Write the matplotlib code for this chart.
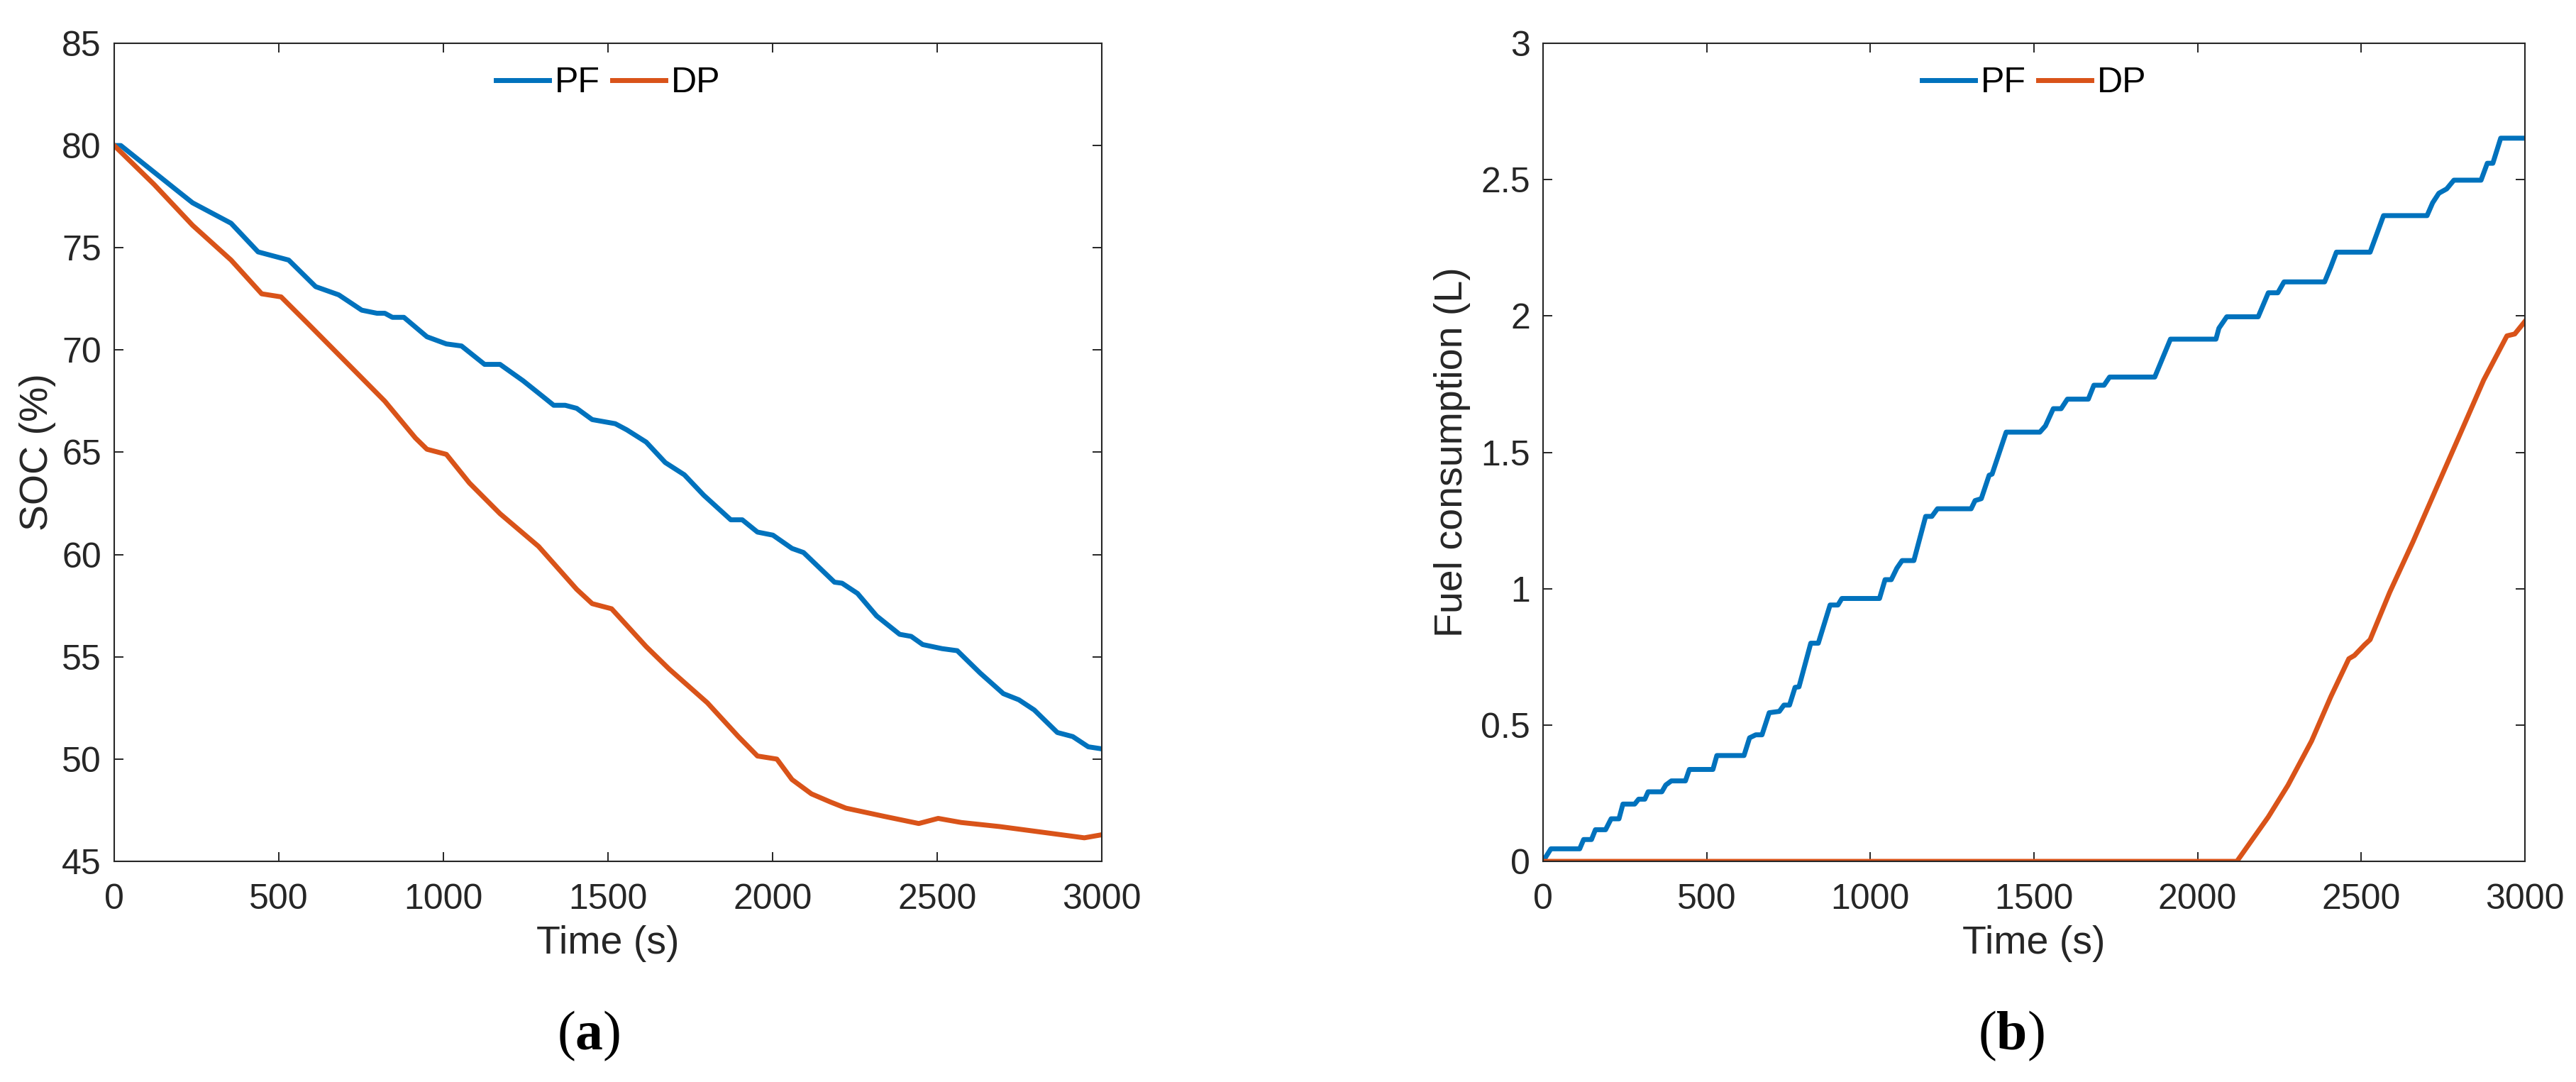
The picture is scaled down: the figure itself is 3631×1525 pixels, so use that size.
import matplotlib
matplotlib.use("Agg")
import matplotlib.pyplot as plt

# ---------------- data ----------------
soc_pf_t = [0, 20, 121, 191, 238, 355, 437, 460, 530, 612, 682, 752, 798, 822, 845, 880,
            950, 1009, 1055, 1125, 1172, 1242, 1312, 1335, 1370, 1405, 1452, 1522, 1557,
            1616, 1674, 1732, 1791, 1873, 1908, 1954, 2001, 2059, 2094, 2188, 2211, 2258,
            2316, 2386, 2421, 2456, 2515, 2561, 2631, 2701, 2748, 2795, 2865, 2912, 2959, 3000]
soc_pf = [80.0, 80.0, 78.7, 77.8, 77.2, 76.2, 74.8, 74.7, 74.4, 73.1, 72.7, 71.95, 71.8, 71.8,
          71.6, 71.6, 70.65, 70.3, 70.2, 69.3, 69.3, 68.5, 67.6, 67.3, 67.3, 67.15, 66.6, 66.4,
          66.1, 65.5, 64.5, 63.9, 62.9, 61.7, 61.7, 61.1, 60.95, 60.3, 60.1, 58.65, 58.6, 58.1,
          57.0, 56.1, 56.0, 55.6, 55.4, 55.3, 54.2, 53.2, 52.9, 52.4, 51.3, 51.1, 50.6, 50.5]

soc_dp_t = [0, 121, 238, 355, 448, 507, 588, 705, 822, 915, 950, 1009, 1079, 1172, 1289,
            1405, 1452, 1511, 1616, 1686, 1802, 1896, 1954, 2013, 2059, 2118, 2176, 2223,
            2339, 2444, 2503, 2573, 2690, 2807, 2947, 3000]
soc_dp = [80.0, 78.1, 76.1, 74.4, 72.75, 72.6, 71.3, 69.4, 67.5, 65.7, 65.15, 64.9, 63.5,
          62.0, 60.4, 58.3, 57.6, 57.35, 55.5, 54.4, 52.75, 51.1, 50.15, 50.0, 49.0, 48.3,
          47.9, 47.6, 47.2, 46.85, 47.1, 46.9, 46.7, 46.45, 46.15, 46.3]

fuel_pf_t = [0, 24, 112, 124, 148, 160, 191, 208, 232, 244, 280, 292, 311, 321, 363, 375,
             392, 435, 447, 519, 531, 614, 631, 650, 669, 691, 722, 736, 753, 770, 782, 818,
             841, 877, 901, 913, 1028, 1045, 1064, 1081, 1097, 1133, 1169, 1188, 1205, 1308,
             1320, 1339, 1363, 1372, 1415, 1518, 1535, 1559, 1583, 1602, 1666, 1683, 1714,
             1731, 1869, 1917, 2056, 2065, 2089, 2185, 2216, 2245, 2264, 2388, 2407, 2424,
             2527, 2568, 2701, 2718, 2737, 2761, 2783, 2866, 2885, 2902, 2926, 3000]
fuel_pf = [0.0, 0.046, 0.046, 0.08, 0.08, 0.116, 0.116, 0.156, 0.156, 0.21, 0.21, 0.228,
           0.228, 0.255, 0.255, 0.28, 0.295, 0.295, 0.337, 0.337, 0.388, 0.388, 0.453, 0.464,
           0.464, 0.545, 0.55, 0.573, 0.573, 0.638, 0.64, 0.80, 0.80, 0.94, 0.94, 0.964, 0.964,
           1.033, 1.033, 1.075, 1.103, 1.103, 1.265, 1.265, 1.293, 1.293, 1.323, 1.33, 1.416,
           1.42, 1.574, 1.574, 1.597, 1.66, 1.66, 1.695, 1.695, 1.746, 1.746, 1.776, 1.776,
           1.915, 1.915, 1.955, 1.997, 1.997, 2.085, 2.085, 2.125, 2.125, 2.18, 2.234, 2.234,
           2.368, 2.368, 2.415, 2.45, 2.466, 2.498, 2.498, 2.56, 2.56, 2.652, 2.652]

fuel_dp_t = [0, 2120, 2216, 2276, 2348, 2407, 2462, 2479, 2510, 2527, 2587, 2658, 2730,
             2802, 2874, 2945, 2969, 3000]
fuel_dp = [0.0, 0.0, 0.163, 0.279, 0.441, 0.604, 0.743, 0.755, 0.794, 0.813, 0.987, 1.172,
           1.37, 1.567, 1.765, 1.927, 1.934, 1.98]

series_names = ["PF", "DP"]
x_ticks = [0, 500, 1000, 1500, 2000, 2500, 3000]
soc_ticks = [45, 50, 55, 60, 65, 70, 75, 80, 85]
fuel_ticks = [0, 0.5, 1, 1.5, 2, 2.5, 3]
fuel_ticklabels = ["0", "0.5", "1", "1.5", "2", "2.5", "3"]

# ---------------- style ----------------
plt.rcParams['font.family'] = ['Liberation Sans', 'DejaVu Sans']
plt.rcParams['mathtext.fontset'] = 'custom'
plt.rcParams['mathtext.rm'] = 'Liberation Serif'
plt.rcParams['mathtext.bf'] = 'Liberation Serif:bold'

C_PF = "#0072BD"
C_DP = "#D95319"
TXT = "#262626"
LW = 5.0

fig = plt.figure(figsize=(36.31, 15.25), dpi=100)
W, H = 3631, 1525
axL = fig.add_axes([161 / W, (H - 1214) / H, (1553 - 161) / W, (1214 - 61) / H])
axR = fig.add_axes([2175 / W, (H - 1214) / H, (3559 - 2175) / W, (1214 - 61) / H])


def style(ax):
    for s in ax.spines.values():
        s.set_color(TXT)
        s.set_linewidth(1.5)
    ax.tick_params(direction='in', length=9.5, width=1.4, colors=TXT,
                   top=True, right=True, labelsize=36)
    ax.tick_params(axis='x', pad=22)
    ax.tick_params(axis='y', pad=13)
    ax.set_xlim(0, 3000)
    ax.set_xticks(x_ticks)
    ax.set_xticklabels([str(v) for v in x_ticks])
    ax.set_xlabel("Time (s)", fontsize=40, color=TXT, labelpad=10)


axL.plot(soc_pf_t, soc_pf, color=C_PF, lw=LW, label=series_names[0], solid_joinstyle='round')
axL.plot(soc_dp_t, soc_dp, color=C_DP, lw=LW, label=series_names[1], solid_joinstyle='round')
style(axL)
axL.set_ylim(45, 85)
axL.set_yticks(soc_ticks)
axL.set_ylabel("SOC (%)", fontsize=40, color=TXT, labelpad=6)

axR.plot(fuel_pf_t, fuel_pf, color=C_PF, lw=LW, label=series_names[0], solid_joinstyle='round')
axR.plot(fuel_dp_t, fuel_dp, color=C_DP, lw=LW, label=series_names[1], solid_joinstyle='round')
style(axR)
axR.set_ylim(0, 3)
axR.set_yticks(fuel_ticks)
axR.set_yticklabels(fuel_ticklabels)
axR.set_ylabel("Fuel consumption (L)", fontsize=40, color=TXT, labelpad=10)

for ax in (axL, axR):
    ax.legend(loc='center', bbox_to_anchor=(0.5, 1 - 56 / 1153), ncol=2, frameon=False,
              fontsize=36, handlelength=1.5, handletextpad=0.15, columnspacing=0.35,
              borderpad=0, borderaxespad=0)

fig.text(830 / W, 1 - 1460 / H, r"($\mathbf{a}$)", fontsize=56, family='Liberation Serif',
         ha='center', va='center', color='black')
fig.text(2835 / W, 1 - 1460 / H, r"($\mathbf{b}$)", fontsize=56, family='Liberation Serif',
         ha='center', va='center', color='black')

fig.savefig("out.png", dpi=100, facecolor='white')
